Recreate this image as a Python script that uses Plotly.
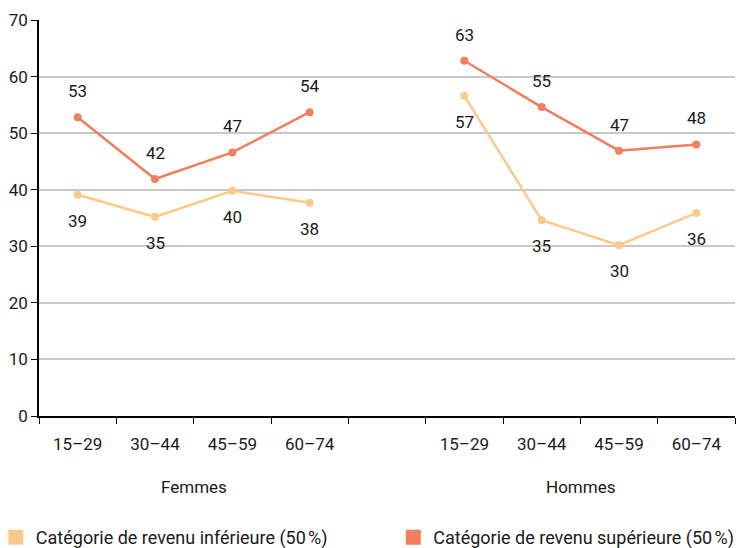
import plotly.graph_objects as go

age_groups = ["15–29", "30–44", "45–59", "60–74"]
sexes = ["Femmes", "Hommes"]
lower_femmes = [39.1, 35.2, 39.8, 37.7]
lower_hommes = [56.6, 34.6, 30.2, 35.9]
upper_femmes = [52.8, 41.9, 46.6, 53.7]
upper_hommes = [62.8, 54.6, 46.9, 48.0]
series_names = ["Catégorie de revenu inférieure (50\u202f%)", "Catégorie de revenu supérieure (50\u202f%)"]
colors = ["#FDC98A", "#EF7F5E"]

FONT = "Roboto"
TXT = "#1a1a1a"
# positions: femmes 0-3, gap at 4, hommes 5-8
xf = [0, 1, 2, 3]
xh = [5, 6, 7, 8]

fig = go.Figure()
series = [(lower_femmes, lower_hommes, -1), (upper_femmes, upper_hommes, 1)]
annotations = []
legend_names = ["legend", "legend2"]
for i, (f, h, sgn) in enumerate(series):
    for xs, ys in [(xf, f), (xh, h)]:
        fig.add_trace(go.Scatter(x=xs, y=ys, mode="lines+markers",
                                 line=dict(color=colors[i], width=2.5),
                                 marker=dict(color=colors[i], size=8),
                                 showlegend=False, hoverinfo="skip"))
        for x, y in zip(xs, ys):
            annotations.append(dict(x=x, y=y, xref="x", yref="y", text=str(round(y)),
                                    showarrow=False, yshift=26 * sgn,
                                    font=dict(family=FONT, size=17, color=TXT)))
    fig.add_trace(go.Scatter(x=[None], y=[None], mode="markers", name=series_names[i],
                             legend=legend_names[i],
                             marker=dict(symbol="square", size=15, color=colors[i])))

# second axis for category labels
fig.add_trace(go.Scatter(x=xf + xh, y=[None] * 8, xaxis="x2", showlegend=False, hoverinfo="skip"))

for j, s in enumerate(sexes):
    annotations.append(dict(x=1.5 + 5 * j, y=-0.179, xref="x", yref="paper", text=s,
                            yanchor="middle", showarrow=False,
                            font=dict(family=FONT, size=17, color=TXT)))

leg_common = dict(orientation="h", xref="paper", yref="paper", y=-0.26,
                  xanchor="left", yanchor="top", itemwidth=30,
                  font=dict(family=FONT, size=18, color=TXT), bgcolor="rgba(0,0,0,0)")

fig.update_layout(
    width=738, height=540,
    margin=dict(l=31, r=11, t=12, b=132, autoexpand=False),
    plot_bgcolor="white", paper_bgcolor="white",
    font=dict(family=FONT, size=17, color=TXT),
    xaxis=dict(range=[-0.5, 8.5], tickvals=[k - 0.5 for k in range(10)], ticktext=[""] * 10,
               ticks="outside", ticklen=6, tickcolor="black", showline=True, linecolor="black",
               linewidth=1.5, showgrid=False, zeroline=False, automargin=False),
    xaxis2=dict(range=[-0.5, 8.5], overlaying="x", side="bottom", tickvals=xf + xh,
                ticktext=age_groups + age_groups, showgrid=False, zeroline=False,
                showline=False, ticks="", ticklabelstandoff=16, automargin=False,
                tickfont=dict(family=FONT, size=17, color=TXT)),
    yaxis=dict(range=[0, 70], dtick=10, showgrid=True, gridcolor="#C8C8C8", gridwidth=1.5,
               showline=True, linecolor="black", linewidth=1.5, ticks="outside", ticklen=6,
               tickcolor="black", zeroline=False, automargin=False,
               tickfont=dict(family=FONT, size=17, color=TXT)),
    legend=dict(x=-0.062, **leg_common),
    legend2=dict(x=0.509, **leg_common),
    annotations=annotations,
)

fig.write_html("out.html")
